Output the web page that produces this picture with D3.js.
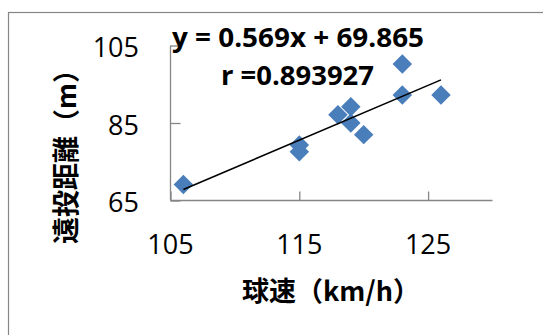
<!DOCTYPE html>
<html><head><meta charset="utf-8">
<script src="https://cdn.jsdelivr.net/npm/d3@7"></script>
<style>html,body{margin:0;padding:0;background:#fff;overflow:hidden}</style>
</head><body>
<svg id="c" width="543" height="335"></svg>
<script>
const speed = [106, 115, 115, 118, 119, 119, 120, 123, 123, 126];
const distance = [69.1, 79.3, 77.6, 87.1, 89.2, 85.0, 82.0, 100.2, 92.2, 92.2];
const xTicks = [105, 115, 125];
const yTicks = [65, 85, 105];
const xDomain = [105, 130];
const yDomain = [65, 105];
const xTitle = "球速（km/h）";
const yTitle = "遠投距離（m）";
const eqText = "y = 0.569x + 69.865";
const rText = "r =0.893927";

const svg = d3.select("#c");
const x = d3.scaleLinear().domain(xDomain).range([170.5, 492.5]);
const y = d3.scaleLinear().domain(yDomain).range([200.5, 45.5]);
const gray = "#868686";

// chart border
svg.append("rect").attr("x", 8.5).attr("y", 12.5).attr("width", 600).attr("height", 400)
  .attr("fill", "none").attr("stroke", gray).attr("stroke-width", 1.2);

// axes
const xAxis = d3.axisBottom(x).tickValues(xTicks).tickSize(-9).tickFormat("");
const yAxis = d3.axisLeft(y).tickValues(yTicks).tickSize(-10).tickFormat("");
const gx = svg.append("g").attr("transform", `translate(0,${y(65)})`).call(xAxis);
const gy = svg.append("g").attr("transform", `translate(${x(105)},0)`).call(yAxis);
[gx, gy].forEach(g => {
  g.select(".domain").attr("stroke", gray).attr("stroke-width", 1.3);
  g.selectAll(".tick line").attr("stroke", gray).attr("stroke-width", 1.3);
});
gx.select(".domain").attr("d", `M${x(105)},0H${x(130)}`);
gy.select(".domain").attr("d", `M0,${y(65)}V${y(105)}`);

// tick labels
svg.append("g").selectAll("text").data(xTicks).join("text")
  .attr("x", d => x(d)).attr("y", 243).attr("text-anchor", "middle")
  .attr("dominant-baseline", "central")
  .attr("font-family", "Open Sans").attr("font-size", 27).attr("fill", "#000")
  .text(d => d);
svg.append("g").selectAll("text").data(yTicks).join("text")
  .attr("x", 139).attr("y", d => y(d) + 1).attr("text-anchor", "end")
  .attr("dominant-baseline", "central")
  .attr("font-family", "Open Sans").attr("font-size", 27).attr("fill", "#000")
  .text(d => d);

// points
const data = speed.map((s, i) => ({ s, d: distance[i] }));
const sym = d3.symbol().type(d3.symbolSquare).size(190);
svg.append("g").selectAll("path").data(data).join("path")
  .attr("d", sym)
  .attr("transform", d => `translate(${x(d.s)},${y(d.d)}) rotate(45)`)
  .attr("fill", "#4a7ebb");

// least squares trendline
const mx = d3.mean(speed), my = d3.mean(distance);
const sxy = d3.sum(speed, (s, i) => (s - mx) * (distance[i] - my));
const sxx = d3.sum(speed, s => (s - mx) ** 2);
const b = sxy / sxx, a = my - b * mx;
const [x0, x1] = d3.extent(speed);
svg.append("line")
  .attr("x1", x(x0)).attr("y1", y(a + b * x0))
  .attr("x2", x(x1)).attr("y2", y(a + b * x1))
  .attr("stroke", "#000").attr("stroke-width", 1.6);

// equation labels
svg.append("text").attr("x", 172).attr("y", 47)
  .attr("font-family", "Open Sans").attr("font-weight", "bold").attr("font-size", 27)
  .attr("textLength", 252).attr("lengthAdjust", "spacingAndGlyphs")
  .text(eqText);
svg.append("text").attr("x", 221).attr("y", 85)
  .attr("font-family", "Open Sans").attr("font-weight", "bold").attr("font-size", 27)
  .attr("textLength", 153).attr("lengthAdjust", "spacingAndGlyphs")
  .text(rText);

// axis titles
svg.append("text").attr("x", 331).attr("y", 289)
  .attr("text-anchor", "middle").attr("dominant-baseline", "central")
  .attr("font-family", "Noto Sans CJK JP").attr("font-weight", "bold").attr("font-size", 27)
  .text(xTitle);
svg.append("text").attr("transform", "translate(64,150) rotate(-90)")
  .attr("text-anchor", "middle").attr("dominant-baseline", "central")
  .attr("font-family", "Noto Sans CJK JP").attr("font-weight", "bold").attr("font-size", 27)
  .text(yTitle);
</script>
</body></html>
